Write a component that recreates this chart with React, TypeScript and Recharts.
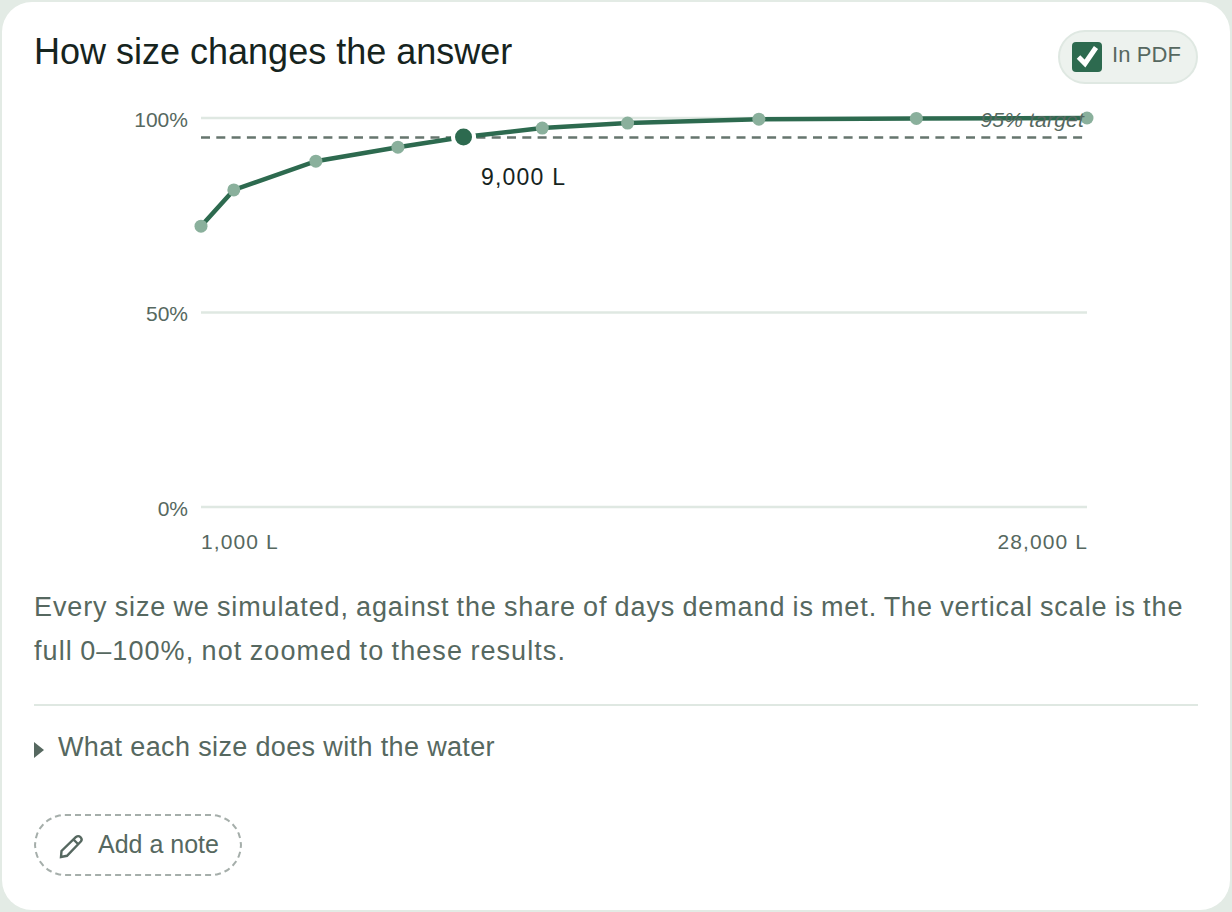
import { ComposedChart, Line, XAxis, YAxis, CartesianGrid, ReferenceLine, ReferenceDot, Label } from "recharts";

const sizes = [1000, 2000, 4500, 7000, 9000, 11400, 14000, 18000, 22800, 28000];
const shareMet = [72.2, 81.5, 88.9, 92.5, 95.1, 97.4, 98.7, 99.7, 99.9, 100];
const yTicks = [0, 50, 100];
const xTicks = [1000, 28000];
const chosenSize = 9000;
const chosenShare = 95.1;
const target = 95;

const data = sizes.map((size, i) => ({ size, share: shareMet[i] }));

const FONT = '"Liberation Sans", Arial, sans-serif';
const INK = "#16241e";
const MUTED = "#566860";
const GREEN = "#2d6a4f";
const RULE = "#dfe8e2";

function XTick({ x, y, payload }: any) {
  const first = payload.value === xTicks[0];
  return (
    <text
      x={x}
      y={y}
      dx={first ? 0 : 1}
      dy={22}
      fontFamily={FONT}
      fontSize={21}
      letterSpacing={1.1}
      fill={MUTED}
      textAnchor={first ? "start" : "end"}
    >
      {payload.value.toLocaleString("en-US")} L
    </text>
  );
}

function YTick({ x, y, payload }: any) {
  return (
    <text x={x} y={y} dy={8.5} fontFamily={FONT} fontSize={21} fill={MUTED} textAnchor="end">
      {payload.value}%
    </text>
  );
}

export default function App() {
  return (
    <div
      style={{
        position: "fixed",
        inset: 0,
        width: 1232,
        height: 912,
        background: "#e3ebe5",
        fontFamily: FONT,
      }}
    >
      <div
        style={{
          position: "absolute",
          left: 2,
          top: 2,
          width: 1228,
          height: 908,
          background: "#fff",
          borderRadius: 30,
        }}
      />
      <div style={{ position: "absolute", left: 34, top: 30, fontSize: 36, lineHeight: "44px", color: INK, whiteSpace: "nowrap" }}>
        How size changes the answer
      </div>

      <div
        style={{
          position: "absolute",
          left: 1058,
          top: 30,
          width: 136,
          height: 50,
          background: "#edf2ee",
          border: "2px solid #dfe8e2",
          borderRadius: 27,
        }}
      />
      <svg style={{ position: "absolute", left: 1072, top: 42 }} width={30} height={30}>
        <rect width={30} height={30} rx={4} fill={GREEN} />
        <path d="M6.5 15 L13 21.5 L24 5.5" fill="none" stroke="#fff" strokeWidth={5} />
      </svg>
      <div style={{ position: "absolute", left: 1112, top: 41, fontSize: 22, lineHeight: "28px", letterSpacing: 0.1, color: MUTED, whiteSpace: "nowrap" }}>
        In PDF
      </div>

      <div style={{ position: "absolute", left: 34, top: 100 }}>
        <ComposedChart
          width={1164}
          height={470}
          data={data}
          margin={{ top: 18, right: 111, bottom: 0, left: 0 }}
        >
          <CartesianGrid vertical={false} stroke={RULE} strokeWidth={2.5} />
          <XAxis
            dataKey="size"
            type="number"
            domain={[1000, 28000]}
            ticks={xTicks}
            tick={<XTick />}
            axisLine={false}
            tickLine={false}
            height={63}
            tickMargin={14}
          />
          <YAxis
            type="number"
            domain={[0, 100]}
            ticks={yTicks}
            width={167}
            axisLine={false}
            tickLine={false}
            tickMargin={7}
            tick={<YTick />}
          />
          <ReferenceLine y={target} stroke="#66756e" strokeWidth={2.5} strokeDasharray="9 6.3">
            <Label
              value="95% target"
              position="insideBottomRight"
              offset={10}
              dx={7}
              fontFamily={FONT}
              fontSize={21}
              letterSpacing={0.2}
              fontStyle="italic"
              fill={MUTED}
            />
          </ReferenceLine>
          <Line
            dataKey="share"
            stroke="none"
            isAnimationActive={false}
            dot={{ r: 6.5, fill: "#8ab09c", stroke: "none" }}
            activeDot={false}
          />
          <Line
            dataKey="share"
            stroke={GREEN}
            strokeWidth={4.5}
            isAnimationActive={false}
            dot={false}
            activeDot={false}
          />
          <ReferenceDot
            x={chosenSize}
            y={chosenShare}
            r={10.5}
            fill={GREEN}
            stroke="#fff"
            strokeWidth={4}
          >
            <Label
              value="9,000 L"
              position="insideTopLeft"
              dx={23}
              dy={37}
              fontFamily={FONT}
              fontSize={23}
              letterSpacing={1.2}
              fill={INK}
            />
          </ReferenceDot>
        </ComposedChart>
      </div>

      <div style={{ position: "absolute", left: 34, top: 585, width: 1164, fontSize: 27, lineHeight: "44px", wordSpacing: -1.2, color: MUTED, whiteSpace: "nowrap" }}>
        <div style={{ letterSpacing: 0.89 }}>
          Every size we simulated, against the share of days demand is met. The vertical scale is the
        </div>
        <div style={{ letterSpacing: 1.07 }}>full 0–100%, not zoomed to these results.</div>
      </div>
      <div style={{ position: "absolute", left: 34, top: 704, width: 1164, height: 2, background: RULE }} />
      <svg style={{ position: "absolute", left: 34, top: 742 }} width={12} height={16}>
        <path d="M0 0 L10 8 L0 16 Z" fill={MUTED} />
      </svg>
      <div style={{ position: "absolute", left: 58, top: 731, fontSize: 27, lineHeight: "32px", letterSpacing: 0.36, color: MUTED, whiteSpace: "nowrap" }}>
        What each size does with the water
      </div>

      <div
        style={{
          position: "absolute",
          left: 34,
          top: 814,
          width: 204,
          height: 58,
          border: "2px dashed #a5aeaa",
          borderRadius: 31,
        }}
      />
      <svg style={{ position: "absolute", left: 58, top: 834 }} width={26} height={26} fill="none" stroke={MUTED} strokeWidth={2.4}>
        <path d="M3 23 L3.5 17 L18 3 C19.5 1.8 21 1.8 22.5 3.2 C24 4.8 24 6.2 22.8 7.5 L9 21.8 Z M15.5 5.5 L20.5 10.5" />
      </svg>
      <div style={{ position: "absolute", left: 98, top: 829, fontSize: 25, lineHeight: "30px", color: MUTED, whiteSpace: "nowrap" }}>
        Add a note
      </div>
    </div>
  );
}
